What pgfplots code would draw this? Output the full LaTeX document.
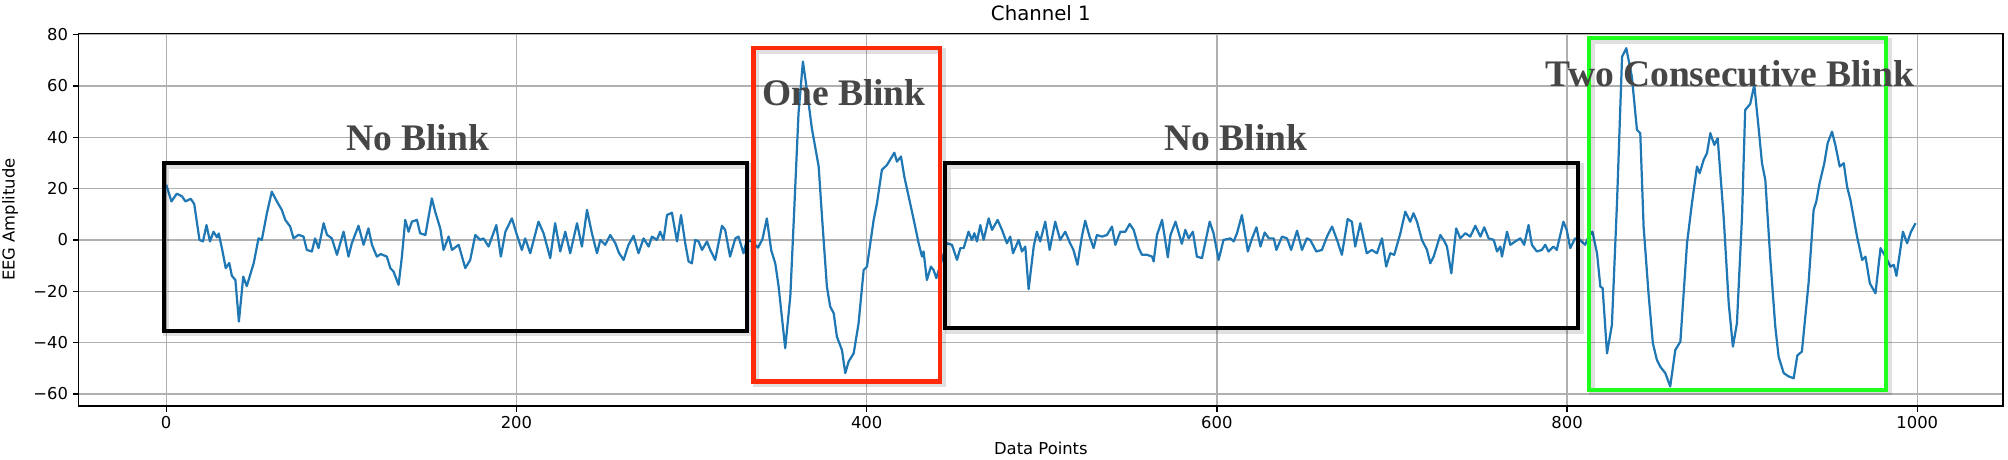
\documentclass[border=0pt]{standalone}
\usepackage{fontspec}
\setmainfont{DejaVu Sans}
\newfontfamily\annfont{Liberation Serif}
\usepackage{pgfplots}
\pgfplotsset{compat=1.18}

\definecolor{mplblue}{HTML}{1F77B4}
\definecolor{gridgray}{HTML}{B0B0B0}
\definecolor{anngray}{HTML}{464646}
\definecolor{boxred}{HTML}{FF2A0A}
\definecolor{boxgreen}{HTML}{1EFF1E}

\tikzset{
  annbox/.style={line width=3bp},
  boxshadow/.style={line width=4.5bp, black, opacity=0.12, xshift=1.8bp, yshift=-1.8bp},
  anntext/.style={font=\annfont\bfseries\fontsize{27bp}{30bp}\selectfont, text=anngray},
}

\begin{document}
\begin{tikzpicture}
\begin{axis}[
    at={(0,0)}, anchor=south west,
    scale only axis,
    width=1385.5bp, height=268.3bp,
    xmin=-49.95, xmax=1048.95,
    ymin=-64.7, ymax=80.5,
    xtick={0,200,400,600,800,1000},
    xticklabels={0,200,400,600,800,1000},
    ytick={-60,-40,-20,0,20,40,60,80},
    yticklabels={−60,−40,−20,0,20,40,60,80},
    tick pos=left,
    tick align=outside,
    major tick length=4.2bp,
    tick style={black, line width=0.95bp},
    axis line style={line width=0.95bp},
    grid=major,
    major grid style={gridgray, line width=0.95bp},
    ticklabel style={font=\fontsize{11.8bp}{13bp}\selectfont},
    title={Channel 1},
    title style={font=\fontsize{14.2bp}{16bp}\selectfont, at={(axis description cs:0.5,1)}, anchor=center, yshift=8.6bp},
    xlabel={Data Points},
    xlabel style={font=\fontsize{11.8bp}{13bp}\selectfont, at={(axis description cs:0.5,0)}, anchor=center, yshift=-30.2bp},
    ylabel={EEG Amplitude},
    ylabel style={font=\fontsize{11.8bp}{13bp}\selectfont, at={(axis description cs:0,0.5)}, anchor=center, yshift=49.5bp},
    clip=false,
]

% channel 1 signal
\addplot[mplblue, line width=1.6bp, line join=round] coordinates {
(0,21.5) (3,15) (6,18) (9,17) (11,15) (14,16) (16,14) (19,0) (21,-0.6) (23,5.8)
(25,-0.6) (27,3.2) (29,1) (30,2.5) (32,-3.9) (34,-11) (36,-9) (37.5,-14) (39.5,-15.6) (41.5,-31.8)
(44,-14.3) (46,-18) (50,-9) (52.7,0.6) (54.6,0) (57.5,10.4) (60.3,18.8) (63.2,15) (66,11.7) (68,7.8)
(70.8,5.2) (72.7,0.6) (75.6,2) (78.4,1.3) (80.3,-3.9) (83.2,-4.5) (85,0.6) (87,-3.2) (89.9,6.5) (91.8,2)
(94.6,0.6) (97.5,-5.8) (101.3,3.2) (104.1,-6.5) (106,-1.3) (109.8,5.5) (112.7,-1.9) (115.5,4.5) (117.5,-1.9) (120.3,-6.5)
(122.5,-5.5) (126,-6.5) (128,-11) (129.8,-12.3) (132.7,-17.5) (134.6,-6.5) (136.5,7.8) (138.4,3.2) (140.3,7.1) (143.2,7.8)
(145,2.6) (148,1.9) (151.7,16.2) (153.6,11) (156.5,4.5) (158.4,-3.9) (161.3,1.3) (163.2,-3.9) (167,-1.9) (170.8,-11)
(173.6,-7.8) (176.5,1.9) (179.3,0) (181.2,0.6) (184.1,-2.6) (188.5,5.8) (191.1,-6.5) (193.7,3.2) (197.4,8.4) (200.3,1.9)
(203.1,-3.9) (205,0.6) (207.9,-5.2) (212.6,7.1) (215.5,2.6) (219.3,-7.1) (222.1,6.5) (225,-4.5) (227.9,3.2) (230.7,-5.2)
(234.6,6.5) (237.4,-2.6) (240.3,11.7) (243.1,2.6) (246,-5.2) (247.9,0) (250.7,-1.9) (253.6,1.9) (256.5,-1.3) (258.5,-5)
(261.2,-7.8) (264,-1.9) (266.9,1.6) (269.7,-5.2) (272.6,0.6) (275.5,-2.6) (277.4,1.3) (280.2,0) (282.1,3.2) (284,0)
(286,9.7) (288.8,10.6) (291.7,-0.6) (294,9.7) (296.4,-1.3) (298.3,-8.4) (300.2,-9.1) (302.1,0) (304,-0.6) (306,-3.9)
(308.8,-0.6) (310.7,-3.9) (313.5,-7.8) (317.4,5.5) (319.2,3.9) (322,-6.5) (325,0.6) (326.8,1.3) (329.7,-5.2) (331.6,0)
(334,-0.5) (338,-3) (340.5,0.3) (343,8.4) (345.5,-4) (347.8,-9.1) (349.7,-18) (353.5,-42.2) (356.4,-22) (358.3,6.5)
(361.1,49.4) (363.6,69.5) (365.9,58.4) (368.7,43.5) (372.6,28.6) (374.5,9.1) (377.3,-18.2) (379.2,-26) (381.2,-28.6) (383,-37.7)
(385.9,-42.9) (387.8,-51.9) (389.7,-47.4) (392.6,-44.2) (395.4,-32.5) (398.3,-11.7) (400.2,-10.4) (402.1,-1.3) (404,7.8) (405.9,14.3)
(408.7,27.3) (411.6,29.2) (413.9,31.8) (415.8,34) (417.3,30.5) (419.6,32.5) (421.5,24.7) (424,16.9) (426.9,7.8) (429.7,-1.3)
(431.6,-6.5) (432.5,-4.5) (434.4,-15.6) (436.7,-10.4) (438.2,-11.7) (439.8,-14.9) (443,-7.8) (445.8,-1.3) (448.7,-1.9) (451.6,-7.8)
(453.5,-3.2) (455.4,-3.2) (458.2,3.2) (460.1,0) (461.5,2.6) (463,-0.6) (464.9,5.8) (466.8,0) (469.7,8.4) (471.6,3.9)
(474.8,7.8) (477.3,3.9) (480.1,-1.3) (482,1.3) (483.6,-5.2) (486.8,0) (488.7,-4.5) (490.6,-2.6) (492.5,-19.2) (495.4,-2.6)
(497.2,3.2) (499.1,-0.6) (502,7.1) (504.5,-3.9) (507.7,7.1) (510.5,0) (513.4,3.2) (516.2,-1.3) (518.1,-3.9) (520.4,-9.7)
(522.9,1.3) (524.8,7.5) (527.3,1.3) (529.6,-3.2) (531.5,1.9) (534.4,1.3) (537.2,1.9) (540.1,5.2) (542,-1.9) (544.9,3.2)
(547.7,3.2) (550.2,6.2) (552.5,3.9) (555.4,-3.2) (557.2,-5.8) (560.1,-5.8) (563,-6.5) (563.9,-8.4) (565.8,1.9) (568.7,7.8)
(572,-6.8) (573.5,1.9) (576.4,7.1) (580,-1.5) (582,3.9) (583.9,0.6) (586.3,3.2) (588.6,-6.5) (591.5,-7.1) (595.9,7.1)
(598.1,2.6) (601,-7.8) (603.8,0) (607.7,0.6) (609.6,-0.6) (611.5,2.6) (614.3,9.7) (617.7,-4.5) (620.1,0.6) (622.6,4.9)
(624.9,-2.6) (627.3,2.9) (629.7,0.6) (632.5,0.6) (634,-3.9) (637.2,1.3) (640.1,0.6) (642.4,-3.9) (645.8,3.6) (648.6,-3.9)
(651.4,0.6) (653.3,0) (656.8,-4.5) (660,-3.9) (662.9,1.3) (665.8,5.2) (668.6,0) (671.4,-5.8) (674.7,8.1) (677.1,7.1)
(679,-2.6) (681.9,6.5) (685.6,-5.2) (688.5,-3.9) (691.4,-5.2) (694.3,0.6) (696.7,-10.4) (699,-5.2) (701.3,-5.8) (704.8,2.6)
(707.6,11) (710.4,7.1) (712.3,10.4) (714.3,7.1) (717.1,0) (720,-3.9) (721.9,-9.1) (723.8,-6.5) (727.6,1.9) (729.5,0)
(731.4,-2.6) (733.9,-13) (736.7,4.5) (739,0.6) (741.9,2.6) (744.7,1.3) (747.6,5.5) (750.5,1.3) (752.7,4.9) (755.2,0.6)
(758.1,0) (760,-4.5) (761.9,-2.6) (762.8,-6.5) (765.7,3.2) (767.6,-1.9) (770.4,-0.6) (773.3,0.6) (775.5,-1.9) (778,5.8)
(779.9,-1.9) (782.7,-4.5) (785.6,-3.9) (787.5,-1.9) (789.4,-4.5) (792.2,-2.6) (794.1,-3.9) (797.9,7.1) (799.8,3.9) (801.8,-3.2)
(804.6,0.6) (807.5,0) (810.3,-1.9) (812.3,1.3) (814.5,3.2) (817.1,-5.2) (819,-18.2) (820.3,-18.8) (822.8,-44.2) (825.6,-33.1)
(828.5,14.3) (831.4,71.4) (833.8,74.7) (837,63.6) (839.9,42.9) (841.8,41.6) (843.7,5.2) (846.5,-20.8) (849,-40.3) (851.3,-46.8)
(853.2,-49.4) (856.1,-51.9) (858.9,-57.1) (861.8,-42.9) (864.7,-39.6) (868.5,-1.3) (871.3,14.3) (874.2,28.6) (875.7,26) (878,31.2)
(879.9,33.8) (881.8,41.6) (884.1,37) (886,39.6) (889.4,9.1) (892.3,-24.7) (894.7,-41.6) (897,-32.5) (899.9,9.1) (901.7,50.6)
(904.6,53) (906.9,60.4) (909.4,43.5) (911.3,29.9) (913.2,23.4) (916.1,-7.8) (918.9,-33.8) (920.8,-45.5) (923.7,-51.9) (926.6,-53.2)
(929.4,-53.9) (931.5,-45) (934.1,-43.5) (937.9,-16.9) (940.8,11.7) (942.3,14.9) (944.2,22.1) (946.9,29.9) (948.8,37.7) (951.3,42.2)
(953.2,37) (955.7,28.6) (958,29.9) (959.9,20.8) (961.8,15.6) (965.6,1.3) (968.5,-7.8) (970.4,-6.5) (972.9,-16.9) (976.1,-20.8)
(979,-3.2) (981.8,-6.5) (984.7,-10.4) (986.6,-9.7) (988.1,-14) (991.8,3.2) (994.2,-1.3) (996.4,3.2) (999,6.5)
};

% annotation boxes (drawn over the plot in the reference)
\draw[boxshadow] (axis cs:-1.5,29.9) rectangle (axis cs:331.6,-35.4);
\draw[annbox, black] (axis cs:-1.5,29.9) rectangle (axis cs:331.6,-35.4);
\draw[boxshadow] (axis cs:335.4,74.7) rectangle (axis cs:442,-55.2);
\draw[annbox, boxred] (axis cs:335.4,74.7) rectangle (axis cs:442,-55.2);
\draw[boxshadow] (axis cs:444.9,29.9) rectangle (axis cs:806.4,-34.4);
\draw[annbox, black] (axis cs:444.9,29.9) rectangle (axis cs:806.4,-34.4);
\draw[boxshadow] (axis cs:812.7,78.6) rectangle (axis cs:982.3,-58.4);
\draw[annbox, boxgreen] (axis cs:812.7,78.6) rectangle (axis cs:982.3,-58.4);

\node[anntext] at (axis cs:143.6,39.7) {No Blink};
\node[anntext] at (axis cs:387,57.5) {One Blink};
\node[anntext] at (axis cs:611,39.7) {No Blink};
\node[anntext] at (axis cs:893,64.8) {Two Consecutive Blink};
\end{axis}
\pgfresetboundingbox
\path (-56.7bp,-38.2bp) rectangle (1389.1bp,292.3bp);
\end{tikzpicture}
\end{document}
